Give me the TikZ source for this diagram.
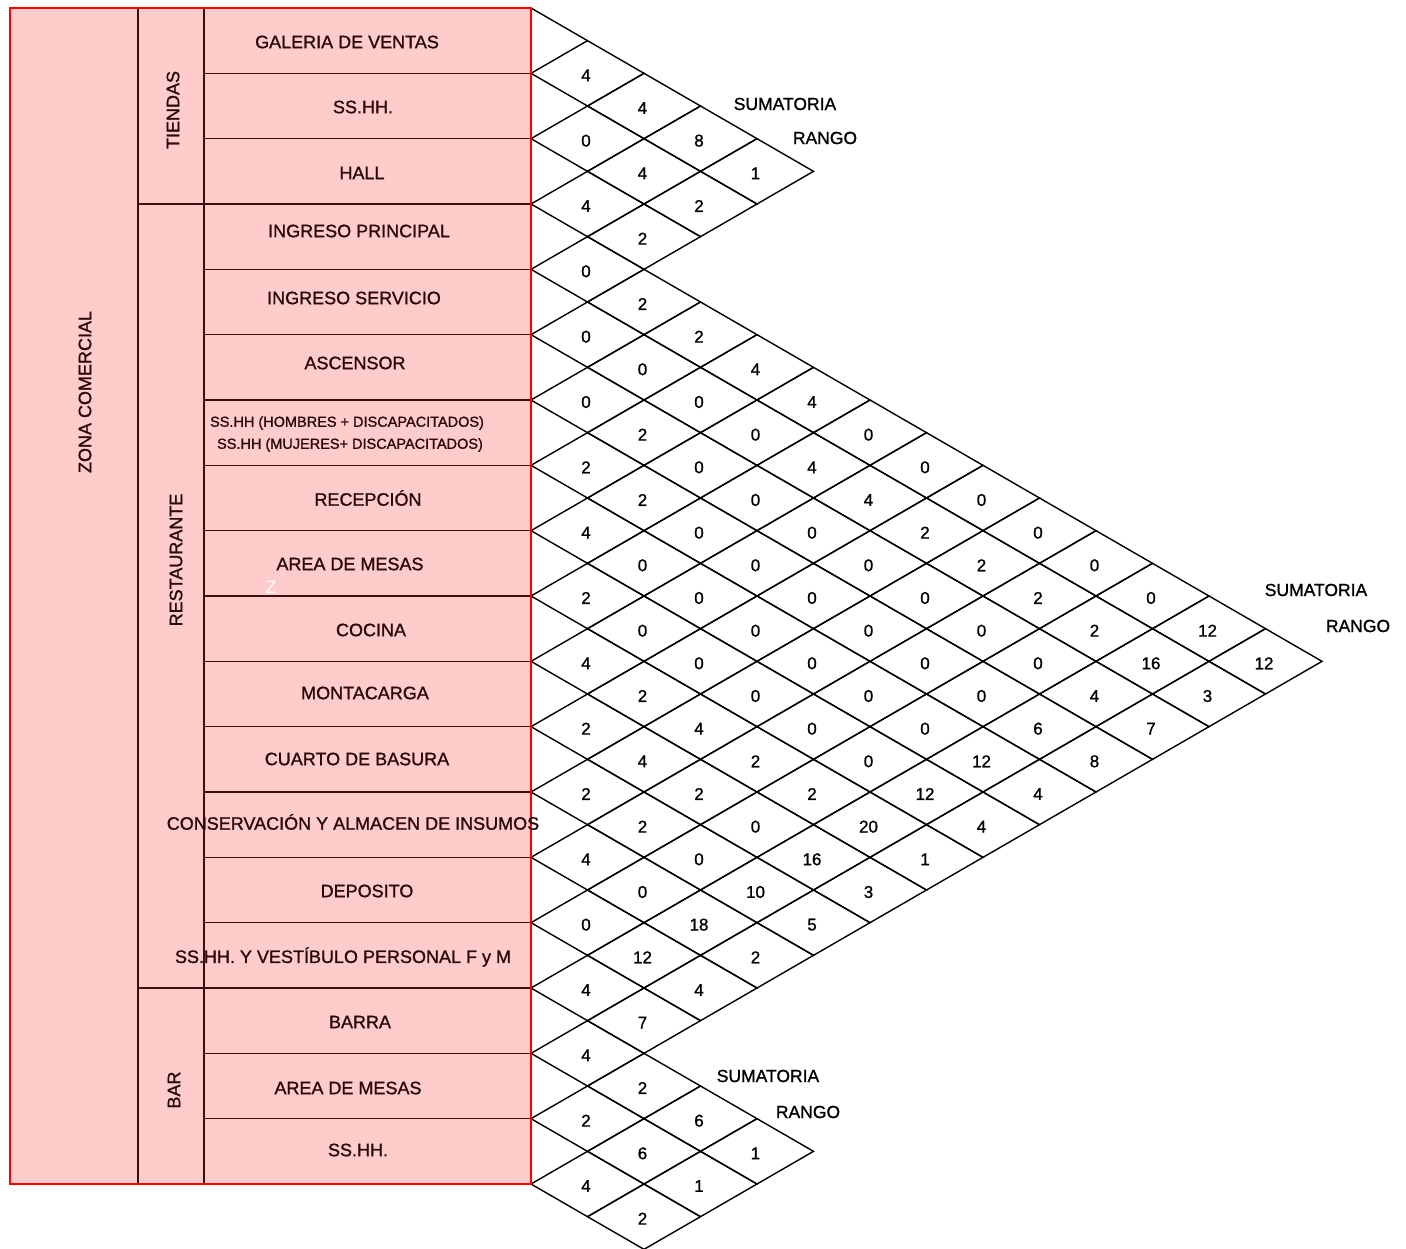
\documentclass[tikz,border=0pt]{standalone}
\usepackage{fontspec}
\setmainfont{Liberation Sans}[BoldFont=Liberation Sans, BoldFeatures={FakeBold=1.1}]
\definecolor{pinkfill}{RGB}{255,204,204}
\definecolor{tabline}{RGB}{60,15,15}
\definecolor{tabtext}{RGB}{40,8,8}
\definecolor{redborder}{RGB}{255,0,0}
\newcommand\mxcell[5]{%
  \pgfmathsetmacro\cx{531+(#4-#3)*56.5}%
  \pgfmathsetmacro\cy{#2+(#3+#4-1)*32.6667}%
  \draw[cellline] (\cx-56.5,\cy) -- (\cx,\cy-32.6667) -- (\cx+56.5,\cy) -- (\cx,\cy+32.6667) -- cycle;%
  \node[celltext] (#1-#3-#4) at (\cx-1.5,\cy+2) {#5};%
}
\begin{document}
\begin{tikzpicture}[x=1pt,y=-1pt,
  itemtext/.style={font=\fontsize{18}{20}\selectfont\bfseries, text=tabtext, inner sep=0pt},
  smalltext/.style={font=\fontsize{14.5}{16}\selectfont\bfseries, text=tabtext, inner sep=0pt},
  grouptext/.style={font=\fontsize{18}{20}\selectfont\bfseries, text=tabtext, inner sep=0pt, rotate=90},
  celltext/.style={font=\fontsize{17}{19}\selectfont\bfseries, text=black, inner sep=0pt},
  headtext/.style={font=\fontsize{17.5}{19}\selectfont\bfseries, text=black, inner sep=0pt},
  cellline/.style={draw=black, line width=1.4pt, line join=miter},
  tabrule/.style={draw=tabline, line width=1.6pt}]
\useasboundingbox (0,0) rectangle (1406,1249);
% table background
\fill[pinkfill] (10,8) rectangle (531,1184);
\draw[tabrule] (138,8) -- (138,1184);
\draw[tabrule] (204,8) -- (204,1184);
\draw[tabrule] (138,204) -- (531,204);
\draw[tabrule] (138,988) -- (531,988);
\foreach \k in {1,2,4,5,6,7,8,9,10,11,12,13,14,16,17} {
  \draw[tabrule] (204,{8+\k*65.3333}) -- (531,{8+\k*65.3333});
}
% matrices
\coordinate (ttop) at (531,8);
\coordinate (tfirst) at (587.5,40.6667);
\draw[cellline] (ttop) -- (tfirst);
\foreach \i/\j/\v in {1/2/4,1/3/4,2/3/0,1/4/8,2/4/4,3/4/4,1/5/1,2/5/2,3/5/2} {
  \mxcell{t}{8}{\i}{\j}{\v}
}
\foreach \i/\j/\v in {
  1/2/0,1/3/2,1/4/2,1/5/4,1/6/4,1/7/0,1/8/0,1/9/0,1/10/0,1/11/0,1/12/0,1/13/12,1/14/12,
  2/3/0,2/4/0,2/5/0,2/6/0,2/7/4,2/8/4,2/9/2,2/10/2,2/11/2,2/12/2,2/13/16,2/14/3,
  3/4/0,3/5/2,3/6/0,3/7/0,3/8/0,3/9/0,3/10/0,3/11/0,3/12/0,3/13/4,3/14/7,
  4/5/2,4/6/2,4/7/0,4/8/0,4/9/0,4/10/0,4/11/0,4/12/0,4/13/6,4/14/8,
  5/6/4,5/7/0,5/8/0,5/9/0,5/10/0,5/11/0,5/12/0,5/13/12,5/14/4,
  6/7/2,6/8/0,6/9/0,6/10/0,6/11/0,6/12/0,6/13/12,6/14/4,
  7/8/4,7/9/2,7/10/4,7/11/2,7/12/2,7/13/20,7/14/1,
  8/9/2,8/10/4,8/11/2,8/12/0,8/13/16,8/14/3,
  9/10/2,9/11/2,9/12/0,9/13/10,9/14/5,
  10/11/4,10/12/0,10/13/18,10/14/2,
  11/12/0,11/13/12,11/14/4,
  12/13/4,12/14/7} {
  \mxcell{r}{204}{\i}{\j}{\v}
}
\foreach \i/\j/\v in {1/2/4,1/3/2,2/3/2,1/4/6,2/4/6,3/4/4,1/5/1,2/5/1,3/5/2} {
  \mxcell{b}{988}{\i}{\j}{\v}
}
% red outline
\draw[redborder, line width=2.4pt] (10,8) rectangle (531,1184);
% headings of the matrices
\node[headtext] (tsum) at (785,104) {SUMATORIA};
\node[headtext] (trang) at (825,138) {RANGO};
\node[headtext] (rsum) at (1316,590) {SUMATORIA};
\node[headtext] (rrang) at (1358,626) {RANGO};
\node[headtext] (bsum) at (768,1076) {SUMATORIA};
\node[headtext] (brang) at (808,1112) {RANGO};
% group labels
\node[grouptext] (zona) at (85,392) {ZONA COMERCIAL};
\node[grouptext] (tiendas) at (173,110) {TIENDAS};
\node[grouptext] (resto) at (176,560) {RESTAURANTE};
\node[grouptext] (bar) at (174,1090) {BAR};
% item labels
\node[itemtext] (i1) at (347,42) {GALERIA DE VENTAS};
\node[itemtext] (i2) at (363,107) {SS.HH.};
\node[itemtext] (i3) at (362,173) {HALL};
\node[itemtext] (i4) at (359,231) {INGRESO PRINCIPAL};
\node[itemtext] (i5) at (354,298) {INGRESO SERVICIO};
\node[itemtext] (i6) at (355,363) {ASCENSOR};
\node[smalltext] (i7a) at (347,423) {SS.HH (HOMBRES + DISCAPACITADOS)};
\node[smalltext] (i7b) at (350,445) {SS.HH (MUJERES+ DISCAPACITADOS)};
\node[itemtext] (i8) at (368,498) {RECEPCIÓN};
\node[itemtext] (i9) at (350,564) {AREA DE MESAS};
\node[font=\fontsize{18}{20}\selectfont, text=white, inner sep=0pt] (zz) at (271,587) {Z};
\node[itemtext] (i10) at (371,630) {COCINA};
\node[itemtext] (i11) at (365,693) {MONTACARGA};
\node[itemtext] (i12) at (357,759) {CUARTO DE BASURA};
\node[itemtext] (i13) at (353,822) {CONSERVACIÓN Y ALMACEN DE INSUMOS};
\node[itemtext] (i14) at (367,891) {DEPOSITO};
\node[itemtext] (i15) at (343,957) {SS.HH. Y VESTÍBULO PERSONAL F y M};
\node[itemtext] (i16) at (360,1022) {BARRA};
\node[itemtext] (i17) at (348,1088) {AREA DE MESAS};
\node[itemtext] (i18) at (358,1150) {SS.HH.};
\end{tikzpicture}
\end{document}
